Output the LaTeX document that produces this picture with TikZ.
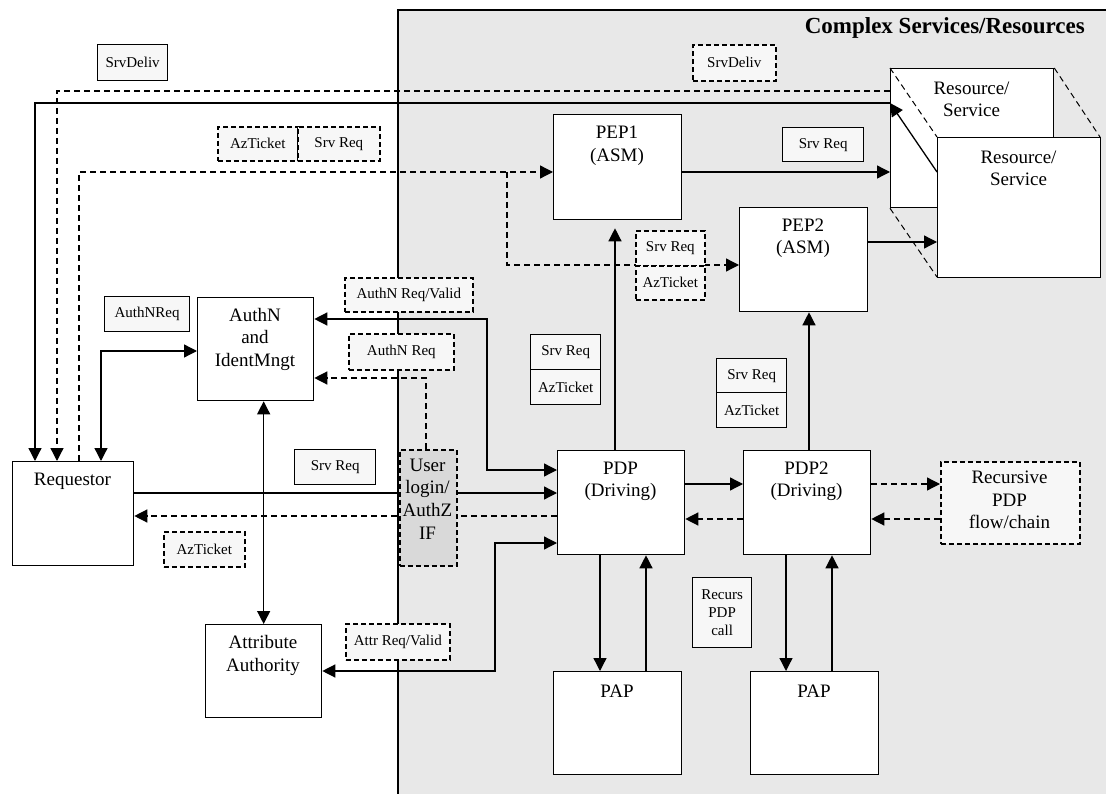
\documentclass[tikz,border=0pt]{standalone}
\usepackage{fontspec}
\setmainfont{Liberation Serif}
\usetikzlibrary{arrows.meta,calc}
\pgfdeclarelayer{back}
\pgfdeclarelayer{mid}
\pgfsetlayers{back,mid,main}
\definecolor{regiongray}{HTML}{E8E8E8}
\definecolor{lblfill}{HTML}{F7F7F7}
\definecolor{loginfill}{HTML}{D9D9D9}
\newcommand\myBig{\fontsize{19}{22.5}\selectfont}
\newcommand\mySmall{\fontsize{15}{18}\selectfont}
\tikzset{
  mainbox/.style={draw, line width=1.3pt, fill=white, inner sep=0pt, anchor=north west},
  maintxt/.style={font=\myBig, align=center, inner sep=0pt},
  lblsolid/.style={draw, line width=1.3pt, fill=lblfill, inner sep=0pt, anchor=north west, font=\mySmall, align=center},
  lbldash/.style={draw, line width=1.6pt, dash pattern=on 5pt off 3pt, fill=lblfill, inner sep=0pt, anchor=north west, font=\mySmall, align=center},
  ln/.style={line width=1.3pt},
  dsh/.style={dash pattern=on 6pt off 4pt},
  arr/.style={ln, -{Triangle[length=13pt,width=13pt]}},
  dbl/.style={ln, {Triangle[length=13pt,width=13pt]}-{Triangle[length=13pt,width=13pt]}},
}
\begin{document}
\begin{tikzpicture}[x=1pt,y=-1pt]
\useasboundingbox (0,0) rectangle (1106,794);
% helper coordinates
\foreach \v in {35,57,79,101,426,487,495,507,600,615,646,786,809,832}{\coordinate (v\v) at (\v,0);}
\foreach \h in {91,103,172,242,265,319,351,378,470,484,493,516,519,543,671}{\coordinate (h\h) at (0,\h);}
% gray region
\begin{pgfonlayer}{back}
\fill[regiongray] (398,10) rectangle (1106,794);
\draw[line width=1.3pt] (398,794) -- (398,10) -- (1106,10);
\end{pgfonlayer}
\node[font=\fontsize{23}{27}\selectfont\bfseries, inner sep=0pt, anchor=base east] (title) at (1085,34) {Complex Services/Resources};

% main boxes
\node[mainbox, minimum width=121pt, minimum height=104pt] (req) at (12,461) {};
\node[maintxt] (reqT) at (72.5,481) {Requestor};
\node[mainbox, minimum width=116pt, minimum height=103pt] (authn) at (197,297) {};
\node[maintxt] (authnT) at (255,339) {AuthN\\and\\IdentMngt};
\node[mainbox, minimum width=116pt, minimum height=93pt] (attr) at (205,624) {};
\node[maintxt] (attrT) at (263,655.5) {Attribute\\Authority};
\node[mainbox, minimum width=128pt, minimum height=105pt] (pep1) at (553,114) {};
\node[maintxt] (pep1T) at (617,146) {PEP1\\(ASM)};
\node[mainbox, minimum width=128pt, minimum height=104pt] (pep2) at (739,207) {};
\node[maintxt] (pep2T) at (803,238) {PEP2\\(ASM)};
\node[mainbox, minimum width=163pt, minimum height=139pt] (resback) at (890,68) {};
\node[maintxt] (resbackT) at (971.5,99.5) {Resource/\\Service};
\draw[ln, dsh, line width=1pt] (resback.north west) -- (937,137);
\draw[ln, dsh, line width=1pt] (resback.north east) -- (1100,137);
\draw[ln, dsh, line width=1pt] (resback.south west) -- (937,277);
\draw[arr] (937,172) -- (resback.west |- h103);
\node[mainbox, minimum width=163pt, minimum height=140pt] (resfront) at (937,137) {};
\node[maintxt] (resfrontT) at (1018.5,168.5) {Resource/\\Service};
\node[mainbox, minimum width=127pt, minimum height=104pt] (pdp) at (557,450) {};
\node[maintxt] (pdpT) at (620.5,481.5) {PDP\\(Driving)};
\node[mainbox, minimum width=127pt, minimum height=104pt] (pdp2) at (743,450) {};
\node[maintxt] (pdp2T) at (806.5,481.5) {PDP2\\(Driving)};
\node[mainbox, fill=lblfill, line width=1.6pt, dash pattern=on 5pt off 3pt, minimum width=139pt, minimum height=82pt] (recur) at (940,461) {};
\node[maintxt] (recurT) at (1009.5,500) {Recursive\\PDP\\flow/chain};
\node[mainbox, minimum width=128pt, minimum height=103pt] (pap1) at (553,671) {};
\node[maintxt] (pap1T) at (617,691) {PAP};
\node[mainbox, minimum width=128pt, minimum height=103pt] (pap2) at (750,671) {};
\node[maintxt] (pap2T) at (814,691) {PAP};
\node[mainbox, fill=loginfill, line width=1.6pt, dash pattern=on 5pt off 3pt, minimum width=57pt, minimum height=116pt] (login) at (399,449) {};
\node[maintxt, font=\fontsize{19}{22.7}\selectfont] (loginT) at (427.5,499) {User\\login/\\AuthZ\\IF};

% labels
\node[lblsolid, minimum width=70pt, minimum height=36pt] (lDelivL) at (97,44) {SrvDeliv};
\node[lbldash, minimum width=83pt, minimum height=36pt] (lDelivR) at (692,44) {SrvDeliv};
\node[lbldash, minimum width=80pt, minimum height=34pt] (lAz1) at (217,126) {AzTicket};
\node[lbldash, minimum width=82pt, minimum height=34pt] (lSR1) at (297,126) {Srv Req};
\node[lblsolid, minimum width=81pt, minimum height=34pt] (lSR2) at (782,127) {Srv Req};
\node[lbldash, minimum width=69pt, minimum height=35pt] (lSR3) at (635,230) {Srv Req};
\node[lbldash, minimum width=69pt, minimum height=34pt] (lAz3) at (635,265) {AzTicket};
\node[lbldash, minimum width=128pt, minimum height=34pt] (lANRV) at (344,277) {AuthN Req/Valid};
\node[lbldash, minimum width=105pt, minimum height=36pt] (lANR) at (348,333) {AuthN Req};
\node[lblsolid, minimum width=85pt, minimum height=35pt] (lANRL) at (104,296) {AuthNReq};
\node[lblsolid, minimum width=70pt, minimum height=35pt] (lSR4) at (530,334) {Srv Req};
\node[lblsolid, minimum width=70pt, minimum height=35pt] (lAz4) at (530,369) {AzTicket};
\node[lblsolid, minimum width=70pt, minimum height=34pt] (lSR5) at (716,358) {Srv Req};
\node[lblsolid, minimum width=70pt, minimum height=35pt] (lAz5) at (716,392) {AzTicket};
\node[lblsolid, minimum width=81pt, minimum height=35pt] (lSR6) at (294,449) {Srv Req};
\node[lbldash, minimum width=81pt, minimum height=35pt] (lAz6) at (163,531) {AzTicket};
\node[lbldash, minimum width=104pt, minimum height=36pt] (lAttr) at (345,623) {Attr Req/Valid};
\node[lblsolid, minimum width=59pt, minimum height=70pt] (lRec) at (692,577) {Recurs\\PDP\\call};

% connectors
\begin{pgfonlayer}{mid}
\draw[arr] (resback.west |- h103) -| (req.north -| v35);
\draw[arr, dsh] (resback.west |- h91) -| (req.north -| v57);
\draw[arr, dsh] (req.north -| v79) |- (pep1.west |- h172);
\draw[arr, dsh] (v507 |- h172) |- (pep2.west |- h265);
\draw[dbl] (req.north -| v101) |- (authn.west |- h351);
\draw[dbl] (authn.south -| attr.north) -- (attr.north);
\draw[dbl] (authn.east |- h319) -| (v487 |- h470) -- (pdp.west |- h470);
\draw[arr, dsh] (login.north -| v426) |- (authn.east |- h378);
\draw[arr] (req.east |- h493) -- (pdp.west |- h493);
\draw[arr, dsh] (pdp.west |- h516) -- (req.east |- h516);
\draw[dbl] (pdp.west |- h543) -| (v495 |- h671) -- (attr.east |- h671);
\draw[arr, shorten >=8pt] (pdp.north -| v615) -- (pep1.south -| v615);
\draw[arr] (pdp2.north -| v809) -- (pep2.south -| v809);
\draw[arr] (pep1.east |- h172) -- (resback.west |- h172);
\draw[arr] (pep2.east |- h242) -- (resfront.west |- h242);
\draw[arr] (pdp.east |- h484) -- (pdp2.west |- h484);
\draw[arr, dsh] (pdp2.west |- h519) -- (pdp.east |- h519);
\draw[arr, dsh] (pdp2.east |- h484) -- (recur.west |- h484);
\draw[arr, dsh] (recur.west |- h519) -- (pdp2.east |- h519);
\draw[arr] (pdp.south -| v600) -- (pap1.north -| v600);
\draw[arr] (pap1.north -| v646) -- (pdp.south -| v646);
\draw[arr] (pdp2.south -| v786) -- (pap2.north -| v786);
\draw[arr] (pap2.north -| v832) -- (pdp2.south -| v832);
\end{pgfonlayer}
\end{tikzpicture}
\end{document}
